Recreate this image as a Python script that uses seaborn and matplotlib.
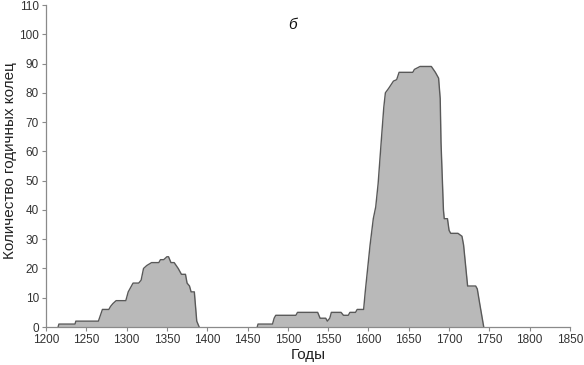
import numpy as np
import pandas as pd
import matplotlib
matplotlib.use("Agg")
import matplotlib.pyplot as plt
import seaborn as sns

# Data (year, number of tree rings)
years_a = [1215, 1216, 1236, 1237, 1265, 1270, 1278, 1280, 1283, 1287, 1299, 1302, 1306,
           1308, 1315, 1318, 1321, 1325, 1331, 1340, 1342, 1346, 1350, 1352, 1355, 1359,
           1364, 1368, 1373, 1375, 1378, 1380, 1384, 1387, 1390]
rings_a = [0, 1, 1, 2, 2, 6, 6, 7, 8, 9, 9, 12, 14,
           15, 15, 16, 20, 21, 22, 22, 23, 23, 24, 24, 22, 22,
           20, 18, 18, 15, 14, 12, 12, 2, 0]

years_b = [1462, 1463, 1481, 1483, 1485, 1510, 1512, 1537, 1540, 1547, 1549, 1552,
           1554, 1566, 1569, 1572, 1575, 1577, 1584, 1586, 1594, 1596, 1599, 1602, 1606,
           1609, 1612, 1616, 1619, 1621, 1625, 1631, 1635, 1638, 1655, 1657, 1664, 1678,
           1683, 1687, 1689, 1690, 1693, 1694, 1698, 1700, 1702, 1711, 1716, 1718, 1723,
           1733, 1735, 1738, 1743]
rings_b = [0, 1, 1, 3, 4, 4, 5, 5, 3, 3, 2, 3,
           5, 5, 4, 4, 4, 5, 5, 6, 6, 12, 20, 28, 37,
           41, 49, 64, 75, 80, 81.5, 84, 84.5, 87, 87, 88, 89, 89,
           87, 85, 78, 63, 40, 37, 37, 33, 32, 32, 31, 28, 14,
           14, 13, 8, 0]

x_ticks = list(range(1200, 1851, 50))
y_ticks = list(range(0, 111, 10))
panel_label = "б"
x_label = "Годы"
y_label = "Количество годичных колец"

df = pd.DataFrame({
    "year": years_a + years_b,
    "rings": rings_a + rings_b,
    "segment": ["a"] * len(years_a) + ["b"] * len(years_b),
})

sns.set_style("ticks")
plt.rcParams["font.family"] = ["Liberation Sans", "DejaVu Sans"]

fig = plt.figure(figsize=(5.84, 3.65), dpi=100)
ax = fig.add_axes([46 / 584, 1 - 327 / 365, (570 - 46) / 584, (327 - 5) / 365])

for seg, sub in df.groupby("segment"):
    ax.fill_between(sub["year"], sub["rings"], 0, color="#b9b9b9", linewidth=0, zorder=1)
sns.lineplot(data=df, x="year", y="rings", units="segment", ax=ax, color="#595959",
             linewidth=1.0, estimator=None, sort=False, zorder=2)

ax.set_xlim(1200, 1850)
ax.set_ylim(0, 110)
ax.set_xticks(x_ticks)
ax.set_yticks(y_ticks)
ax.tick_params(axis="both", labelsize=8.5, colors="#8a8a8a", labelcolor="#333333",
               length=3, width=0.8, pad=2)
for s in ["top", "right"]:
    ax.spines[s].set_visible(False)
for s in ["left", "bottom"]:
    ax.spines[s].set_color("#8a8a8a")
    ax.spines[s].set_linewidth(0.9)

ax.set_xlabel(x_label, fontsize=11, color="#222222")
ax.xaxis.set_label_coords(0.5, -(355 - 327) / 322)
ax.xaxis.label.set_va("center")
ax.set_ylabel(y_label, fontsize=11, color="#222222")
ax.yaxis.set_label_coords(-(46 - 10) / 524, (327 - 161) / 322)
ax.yaxis.label.set_va("center")
ax.text(1506, 103, panel_label, fontsize=11, style="italic", color="#111111",
        ha="center", va="center")

fig.savefig("out.png", dpi=100)
